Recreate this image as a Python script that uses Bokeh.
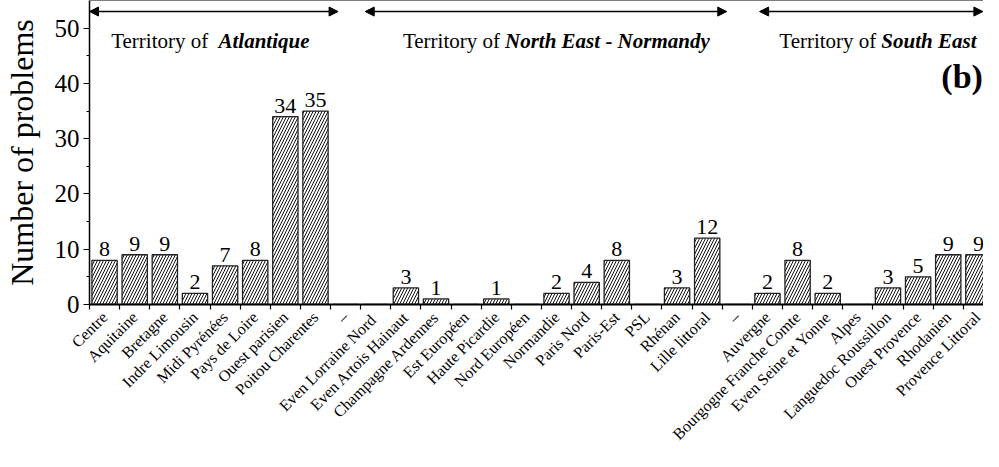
from bokeh.plotting import figure
from bokeh.models import (Range1d, FixedTicker, Span, Arrow, NormalHead, ColumnDataSource, Label)
from bokeh.core.properties import value
from bokeh.embed import file_html
from bokeh.resources import INLINE
import math

categories = ["Centre", "Aquitaine", "Bretagne", "Indre Limousin", "Midi Pyrénées", "Pays de Loire",
              "Ouest parisien", "Poitou Charentes", "–",
              "Even  Lorraine Nord", "Even Artois Hainaut", "Champagne Ardennes", "Est Européen",
              "Haute Picardie", "Nord Européen", "Normandie", "Paris Nord", "Paris-Est", "PSL",
              "Rhénan", "Lille littoral", "–",
              "Auvergne", "Bourgogne Franche Comte", "Even Seine et Yonne", "Alpes",
              "Languedoc Roussillon", "Ouest Provence", "Rhodanien", "Provence Littoral"]
problems = [8, 9, 9, 2, 7, 8, 34, 35, 0,
            0, 3, 1, 0, 1, 0, 2, 4, 8, 0, 3, 12, 0,
            2, 8, 2, 0, 3, 5, 9, 9]
y_ticks = [0, 10, 20, 30, 40, 50]

territories_plain = ["Territory  of", "Territory of", "Territory of"]
territories_bold = ["Atlantique", "North East - Normandy", "South East"]
territory_split_x = [4.78, 14.29, 26.78]
arrow_start = [0.5, 9.65, 22.74]
arrow_end = [8.75, 21.65, 30.15]
arrow_y = 53
territory_y = 47.6

SERIF = "Liberation Serif"

positions = list(range(1, len(categories) + 1))

p = figure(width=983, height=451, output_backend="svg", toolbar_location=None,
           x_range=Range1d(0.5, 30.17), y_range=Range1d(0, 55),
           min_border_left=88, min_border_right=0, min_border_top=0, min_border_bottom=0)
p.outline_line_color = None
p.xgrid.visible = False
p.ygrid.visible = False
p.background_fill_color = "white"
p.border_fill_color = "white"

src = ColumnDataSource(dict(x=positions, top=problems))
p.vbar(x="x", top="top", width=0.84, bottom=0, source=src,
       fill_color="white", line_color="#222222", line_width=1.3,
       hatch_pattern="/", hatch_color="#111111", hatch_scale=6, hatch_weight=1.0)

lab_x = [x for x, v in zip(positions, problems) if v > 0]
lab_y = [v for v in problems if v > 0]
lab_t = [str(v) for v in problems if v > 0]
p.text(x=lab_x, y=lab_y, text=lab_t, y_offset=-4, text_align="center", text_baseline="bottom",
       text_font=value(SERIF), text_font_size="22px", text_color="black")

# Territory headings
p.text(x=territory_split_x, y=[territory_y] * 3, text=territories_plain, x_offset=-5,
       text_align="right", text_baseline="alphabetic",
       text_font=value(SERIF), text_font_size="21px", text_color="black")
p.text(x=territory_split_x, y=[territory_y] * 3, text=territories_bold,
       text_align="left", text_baseline="alphabetic", text_font_style="bold italic",
       text_font=value(SERIF), text_font_size="21px", text_color="black")

for xs, xe in zip(arrow_start, arrow_end):
    p.add_layout(Arrow(start=NormalHead(size=9, fill_color="black", line_color="black"),
                       end=NormalHead(size=9, fill_color="black", line_color="black"),
                       x_start=xs, x_end=xe, y_start=arrow_y, y_end=arrow_y,
                       line_width=1.5, line_color="black"))

p.add_layout(Label(x=30.15, y=41.3, text="(b)", text_align="right", text_baseline="middle",
                   text_font=SERIF, text_font_size="34px", text_font_style="bold",
                   text_color="black"))

p.add_layout(Span(location=55, dimension="width", line_color="black", line_width=1.2))

# x axis
xa = p.xaxis[0]
xa.ticker = FixedTicker(ticks=positions, minor_ticks=[k + 0.5 for k in range(0, 31)])
xa.major_label_overrides = {i: c for i, c in zip(positions, categories)}
xa.major_label_orientation = math.pi / 4
xa.major_tick_out = 0
xa.major_tick_in = 0
xa.minor_tick_out = 5
xa.minor_tick_in = 0
xa.minor_tick_line_color = "black"
xa.minor_tick_line_width = 1.2
xa.axis_line_color = "black"
xa.axis_line_width = 1.8
xa.major_label_text_font = SERIF
xa.major_label_text_font_size = "16px"
xa.major_label_text_color = "black"
xa.major_label_standoff = 5

# y axis
ya = p.yaxis[0]
ya.ticker = FixedTicker(ticks=y_ticks, minor_ticks=[5, 15, 25, 35, 45])
ya.major_tick_out = 6
ya.major_tick_in = 0
ya.minor_tick_out = 3
ya.minor_tick_in = 0
ya.major_tick_line_color = "black"
ya.minor_tick_line_color = "black"
ya.major_tick_line_width = 1.2
ya.axis_line_color = "black"
ya.axis_line_width = 1.5
ya.major_label_text_font = SERIF
ya.major_label_text_font_size = "25px"
ya.major_label_text_color = "black"
ya.major_label_standoff = 4
ya.axis_label = "Number of problems"
ya.axis_label_text_font = SERIF
ya.axis_label_text_font_size = "32px"
ya.axis_label_text_font_style = "normal"
ya.axis_label_text_color = "black"
ya.axis_label_standoff = 12

open("out.html", "w").write(file_html(p, INLINE))
